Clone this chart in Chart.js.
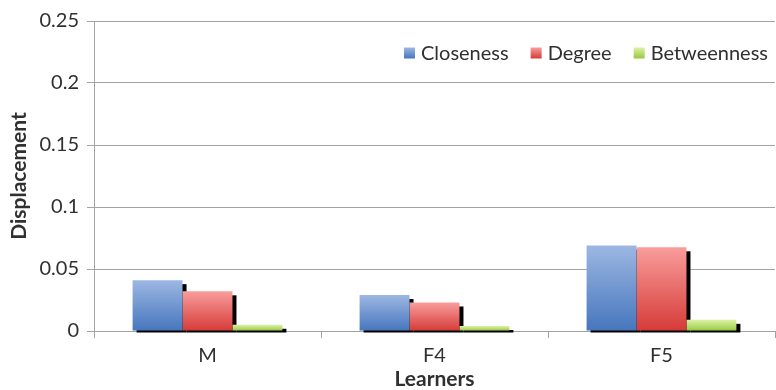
<!DOCTYPE html>
<html>
<head>
<meta charset="utf-8">
<script src="https://cdn.jsdelivr.net/npm/chart.js@4/dist/chart.umd.min.js"></script>
<style>
  html, body { margin: 0; padding: 0; background: #ffffff; }
  #wrap { width: 776px; height: 390px; position: relative; }
</style>
</head>
<body>
<div id="wrap"><canvas id="chart"></canvas></div>
<script>
// Learners and their displacement per centrality measure
const learners = ['M', 'F4', 'F5'];
const closeness = [0.041, 0.029, 0.069];
const degree = [0.032, 0.023, 0.0675];
const betweenness = [0.005, 0.004, 0.009];
const seriesNames = ['Closeness', 'Degree', 'Betweenness'];
const yTickLabels = ['0', '0.05', '0.1', '0.15', '0.2', '0.25'];

const FONT = 'Lato';
const TEXT = '#303030';
const GRID = '#a3a3a3';

// light-to-dark vertical fills, one pair per series
const fills = [
  ['#9db7e3', '#4676bd'],
  ['#f99d9b', '#d53b38'],
  ['#dcf2a6', '#98c840']
];

function barFill(top, bottom) {
  return (ctx) => {
    const chart = ctx.chart;
    if (!chart.chartArea || ctx.type !== 'data' || !chart.scales.y) return bottom;
    const ys = chart.scales.y;
    const y0 = ys.getPixelForValue(ctx.parsed.y);
    const y1 = ys.getPixelForValue(0);
    const g = chart.ctx.createLinearGradient(0, y0, 0, y1);
    g.addColorStop(0, top);
    g.addColorStop(1, bottom);
    return g;
  };
}

// hard black drop shadow behind every bar, offset down and to the right
const barShadow = {
  id: 'barShadow',
  beforeDatasetsDraw(chart) {
    const c = chart.ctx;
    c.save();
    c.fillStyle = '#000000';
    chart.data.datasets.forEach((ds, i) => {
      chart.getDatasetMeta(i).data.forEach((bar) => {
        const p = bar.getProps(['x', 'y', 'base', 'width'], true);
        const top = p.y + 4;
        c.fillRect(p.x - p.width / 2 + 4, top, p.width, p.base + 2 - top);
      });
    });
    c.restore();
  }
};

// legend drawn inside the plot, top right
const innerLegend = {
  id: 'innerLegend',
  afterDraw(chart) {
    const c = chart.ctx;
    c.save();
    c.font = '20px ' + FONT;
    c.textBaseline = 'middle';
    const box = 11, gapText = 6, gapItem = 22, yMid = 53;
    const widths = seriesNames.map((n) => c.measureText(n).width);
    let total = 0;
    widths.forEach((w, i) => { total += box + gapText + w + (i < widths.length - 1 ? gapItem : 0); });
    let x = 768 - total;
    seriesNames.forEach((name, i) => {
      const g = c.createLinearGradient(0, yMid - box / 2, 0, yMid + box / 2);
      g.addColorStop(0, fills[i][0]);
      g.addColorStop(1, fills[i][1]);
      c.fillStyle = g;
      c.fillRect(x, yMid - box / 2, box, box);
      x += box + gapText;
      c.fillStyle = TEXT;
      c.fillText(name, x, yMid + 1);
      x += widths[i] + gapItem;
    });
    c.restore();
  }
};

const seriesValues = [closeness, degree, betweenness];

new Chart(document.getElementById('chart'), {
  type: 'bar',
  data: {
    labels: learners,
    datasets: seriesNames.map((name, i) => ({
      label: name,
      data: seriesValues[i],
      backgroundColor: barFill(fills[i][0], fills[i][1]),
      borderWidth: 0,
      barPercentage: 1.0,
      categoryPercentage: 0.66
    }))
  },
  options: {
    responsive: true,
    maintainAspectRatio: false,
    animation: false,
    devicePixelRatio: 1,
    layout: { padding: { top: 21, right: 1, bottom: 0, left: 0 } },
    plugins: {
      legend: { display: false },
      tooltip: { enabled: false }
    },
    scales: {
      x: {
        grid: { drawOnChartArea: false, drawTicks: true, tickLength: 7, color: GRID, offset: true },
        border: { color: GRID, width: 1 },
        ticks: { color: TEXT, font: { family: FONT, size: 20 }, padding: 6 },
        title: { display: true, text: 'Learners', color: TEXT, font: { family: FONT, size: 21, weight: 'bold', lineHeight: 1 }, padding: { top: 0, bottom: 0 } },
        afterFit(scale) { scale.height = 59; }
      },
      y: {
        min: 0,
        max: 0.25,
        grid: { color: GRID, tickLength: 7, drawTicks: true },
        border: { color: GRID, width: 1 },
        ticks: {
          stepSize: 0.05,
          color: TEXT,
          font: { family: FONT, size: 20 },
          padding: 8,
          callback: (v, i) => yTickLabels[i]
        },
        title: { display: true, text: 'Displacement', color: TEXT, font: { family: FONT, size: 21, weight: 'bold', lineHeight: 1 }, padding: { top: 9, bottom: 0 } },
        afterFit(scale) { scale.width = 94; }
      }
    }
  },
  plugins: [barShadow, innerLegend]
});
</script>
</body>
</html>
